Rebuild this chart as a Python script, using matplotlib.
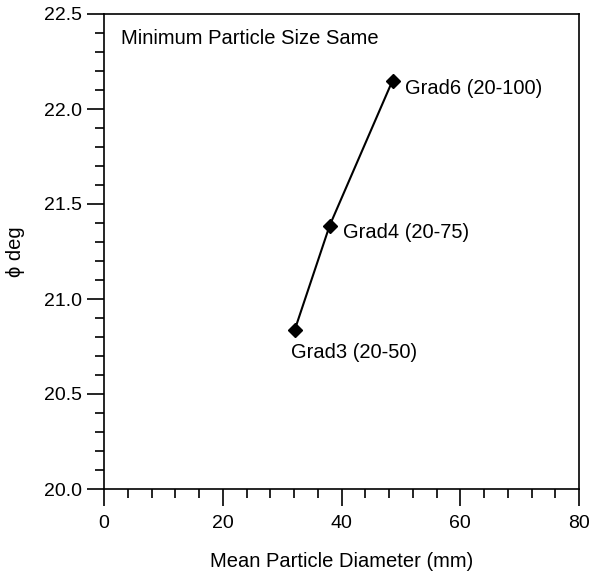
import matplotlib
matplotlib.use("Agg")
import matplotlib.pyplot as plt
from matplotlib.ticker import MultipleLocator, FormatStrFormatter

plt.rcParams['font.family'] = ['Liberation Sans', 'DejaVu Sans']

# Friction angle vs mean particle diameter for gradations sharing a minimum size
mean_diameter = [32.1, 38.0, 48.6]
phi_deg = [20.835, 21.386, 22.15]
gradation_labels = ["Grad3 (20-50)", "Grad4 (20-75)", "Grad6 (20-100)"]
label_x = [31.5, 40.25, 50.7]
label_y = [20.72, 21.35, 22.11]

fig = plt.figure(figsize=(5.95, 5.71), dpi=100)
ax = fig.add_axes([104 / 595, 1 - 489 / 571, 475 / 595, 475 / 571])

ax.plot(mean_diameter, phi_deg, color='black', lw=1.5, marker='D',
        markersize=7, markerfacecolor='black', markeredgecolor='black')

for lx, ly, txt in zip(label_x, label_y, gradation_labels):
    ax.text(lx, ly, txt, fontsize=14.5, ha='left', va='center')

ax.text(2.9, 22.37, "Minimum Particle Size Same", fontsize=14.5,
        ha='left', va='center')

ax.set_xlim(0, 80)
ax.set_ylim(20.0, 22.5)
ax.xaxis.set_major_locator(MultipleLocator(20))
ax.xaxis.set_minor_locator(MultipleLocator(4))
ax.yaxis.set_major_locator(MultipleLocator(0.5))
ax.yaxis.set_minor_locator(MultipleLocator(0.1))
ax.yaxis.set_major_formatter(FormatStrFormatter('%.1f'))

ax.tick_params(which='major', direction='out', length=12, width=1.2,
               labelsize=14, top=False, right=False)
ax.tick_params(which='minor', direction='out', length=6.5, width=1.2,
               top=False, right=False)
ax.tick_params(axis='x', which='major', pad=7)
ax.tick_params(axis='y', which='major', pad=3.5)
for sp in ax.spines.values():
    sp.set_linewidth(1.2)

ax.set_xlabel("Mean Particle Diameter (mm)", fontsize=14.5, labelpad=14)
ax.set_ylabel("\u03d5 deg", fontsize=14.5, labelpad=14)

fig.savefig("out.png", dpi=100)
